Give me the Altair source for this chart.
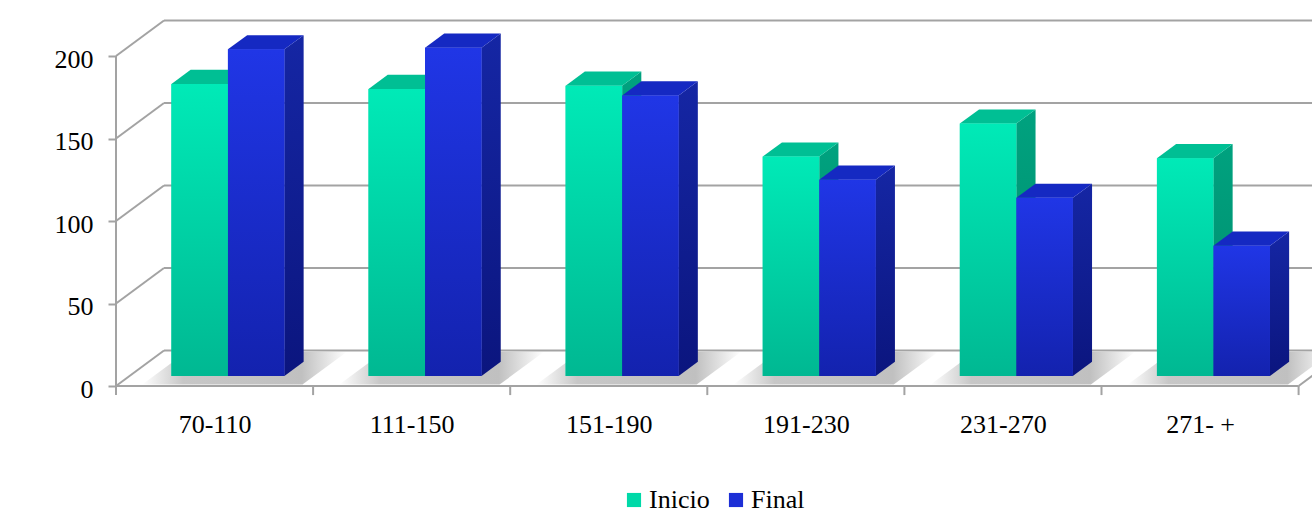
import json
import altair as alt
import pandas as pd

# ---- data ----
categories = ["70-110", "111-150", "151-190", "191-230", "231-270", "271- +"]
inicio = [177, 174, 176, 133, 153, 132]
final = [198, 199, 170, 119, 108, 79]
series_names = ["Inicio", "Final"]
y_ticks = [0, 50, 100, 150, 200]

# ---- geometry of the oblique 3D frame (in scale units) ----
PX_PER_CAT = 197.1
PX_PER_UNIT = 1.65
PLOT_W = 1196
PLOT_H = 386
XMAX = PLOT_W / PX_PER_CAT
YMAX = PLOT_H / PX_PER_UNIT
DX = 48 / PX_PER_CAT          # wall depth, x
DY = 35.5 / PX_PER_UNIT       # wall depth, y
FRONT = 0.28                  # bar front plane (fraction of depth)
DEPTH = 0.40                  # bar depth (fraction of depth)
GAP = 42 / PX_PER_CAT
BW = 56.5 / PX_PER_CAT
n = len(categories)

fx, fy = FRONT * DX, FRONT * DY
bdx, bdy = DEPTH * DX, DEPTH * DY

front_rows, side_rows, top_rows, shadow_rows = [], [], [], []
for i in range(n):
    for s, (name, vals) in enumerate(zip(series_names, [inicio, final])):
        v = vals[i]
        x0 = i + GAP + s * BW + fx
        x1 = x0 + BW
        bid = f"{i}-{s}"
        front_rows.append(dict(series=name, bar=bid, x=x0, x2=x1, y=fy, y2=v + fy))
        side_rows.append(dict(series=name, bar=bid, x=x1, y=fy, y2=v + fy))
        side_rows.append(dict(series=name, bar=bid, x=x1 + bdx, y=fy + bdy, y2=v + fy + bdy))
        top_rows.append(dict(series=name, bar=bid, y=v + fy, x=x0, x2=x1))
        top_rows.append(dict(series=name, bar=bid, y=v + fy + bdy, x=x0 + bdx, x2=x1 + bdx))
    # soft floor shadow under each pair of bars
    a, b = i + GAP - 0.09, i + GAP + 2 * BW + 0.15
    for d in (0.04, 0.96):
        shadow_rows.append(dict(cat=i, y=d * DY, x=a + d * DX, x2=b + d * DX))

front_df = pd.DataFrame(front_rows)
side_df = pd.DataFrame(side_rows)
top_df = pd.DataFrame(top_rows)
shadow_df = pd.DataFrame(shadow_rows)

frame_rows = [dict(x=0, y=0, x2=0, y2=max(y_ticks))]
for t in y_ticks:
    frame_rows.append(dict(x=0, y=t, x2=DX, y2=t + DY))
    frame_rows.append(dict(x=DX, y=t + DY, x2=n + DX, y2=t + DY))
frame_rows.append(dict(x=0, y=0, x2=n, y2=0))
frame_rows.append(dict(x=n, y=0, x2=n + DX, y2=DY))
for i in range(n + 1):
    frame_rows.append(dict(x=i, y=0, x2=i, y2=-5.5))
frame_df = pd.DataFrame(frame_rows)

GRID = "#A3A3A3"
FONT = "Liberation Serif"
FS = 26

label_expr = json.dumps(categories) + "[round(datum.value - 0.5)]"


def X(field="x"):
    return alt.X(
        f"{field}:Q",
        title=None,
        scale=alt.Scale(domain=[0, XMAX], nice=False, zero=False),
        axis=alt.Axis(
            values=[i + 0.5 for i in range(n)],
            labelExpr=label_expr,
            ticks=False,
            domain=False,
            grid=False,
            labelFont=FONT,
            labelFontSize=FS,
            labelColor="black",
            labelPadding=25,
        ),
    )


def Y(field="y"):
    return alt.Y(
        f"{field}:Q",
        title=None,
        scale=alt.Scale(domain=[0, YMAX], nice=False, zero=False),
        axis=alt.Axis(
            values=y_ticks,
            ticks=True,
            tickColor=GRID,
            tickSize=8,
            tickWidth=2,
            domain=False,
            grid=False,
            labelFont=FONT,
            labelFontSize=FS,
            labelColor="black",
            labelPadding=15,
            labelOffset=3,
        ),
    )


def grad(top, bottom):
    return alt.Gradient(
        gradient="linear",
        stops=[alt.GradientStop(color=top, offset=0), alt.GradientStop(color=bottom, offset=1)],
        x1=0, x2=0, y1=0, y2=1,
    )


shadow_grad = alt.Gradient(
    gradient="linear",
    stops=[
        alt.GradientStop(color="#FFFFFF", offset=0),
        alt.GradientStop(color="#BDBDBD", offset=0.2),
        alt.GradientStop(color="#B5B5B5", offset=0.78),
        alt.GradientStop(color="#FFFFFF", offset=1),
    ],
    x1=0, x2=1, y1=0, y2=0,
)

styles = {
    "Inicio": dict(front=grad("#00EAB7", "#00B892"), side=grad("#00A27F", "#008A6B"), top="#00BF94"),
    "Final": dict(front=grad("#2036E6", "#1322AE"), side=grad("#1526A4", "#0B157E"), top="#1529C2"),
}

shadow = alt.Chart(shadow_df).mark_area(orient="horizontal", color=shadow_grad, opacity=0.85).encode(
    y=Y(), x=X(), x2="x2:Q", detail="cat:N"
)

frame = alt.Chart(frame_df).mark_rule(color=GRID, strokeWidth=2).encode(
    x=X(), y=Y(), x2="x2:Q", y2="y2:Q"
)

legend_layer = alt.Chart(front_df).mark_rect().encode(
    x=X(), x2="x2:Q", y=Y(), y2="y2:Q",
    color=alt.Color(
        "series:N",
        scale=alt.Scale(domain=series_names, range=["#00D9A8", "#1D2FD6"]),
        legend=alt.Legend(
            orient="none", legendX=505, legendY=487, direction="horizontal",
            title=None, symbolType="square", symbolSize=200, symbolStrokeWidth=0,
            labelFont=FONT, labelFontSize=FS, labelColor="black",
            labelOffset=2, columnPadding=13, padding=0,
        ),
    ),
)

layers = [shadow, frame, legend_layer]
for name in series_names:
    st = styles[name]
    side = alt.Chart(side_df[side_df.series == name]).mark_area(
        orient="vertical", color=st["side"]
    ).encode(x=X(), y=Y(), y2="y2:Q", detail="bar:N")
    top = alt.Chart(top_df[top_df.series == name]).mark_area(
        orient="horizontal", color=st["top"]
    ).encode(y=Y(), x=X(), x2="x2:Q", detail="bar:N")
    front = alt.Chart(front_df[front_df.series == name]).mark_rect(
        color=st["front"]
    ).encode(x=X(), x2="x2:Q", y=Y(), y2="y2:Q")
    layers += [side, top, front]

chart = alt.layer(*layers).properties(
    width=PLOT_W,
    height=PLOT_H,
    autosize=alt.AutoSizeParams(type="none"),
    padding={"left": 116, "top": 0, "right": 0, "bottom": 127},
    background="white",
).configure_view(stroke=None)

chart.save("out.html", embed_options={"renderer": "svg", "actions": False})
